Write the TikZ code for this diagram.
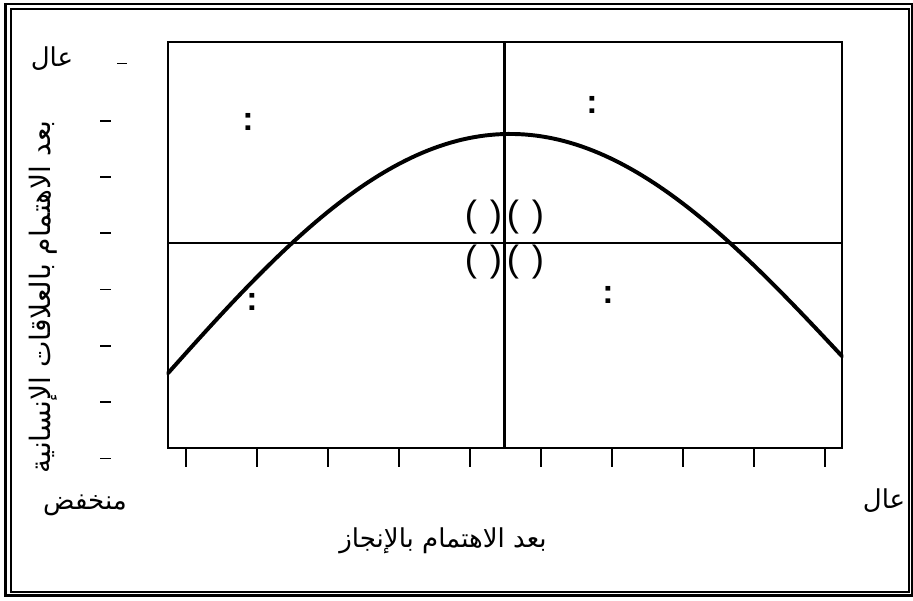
\documentclass[tikz,border=0pt]{standalone}
\usepackage{fontspec}
\setmainfont{Liberation Sans}
\newfontfamily\arabicfont[Script=Arabic]{DejaVu Sans}
\TeXXeTstate=1
\usetikzlibrary{positioning}

\begin{document}
\begin{tikzpicture}[
    x=0.025cm, y=-0.025cm,
    frameout/.style={line width=2.1pt},
    framein/.style={line width=1.4pt},
    axisline/.style={line width=1.5pt},
    tickline/.style={line width=1.2pt},
    curveline/.style={line width=2.8pt, line cap=round},
    lbl/.style={font=\arabicfont\fontsize{18.5}{20}\selectfont, inner sep=0pt},
    dots/.style={font=\fontsize{24}{26}\selectfont\bfseries, inner sep=0pt},
    pars/.style={font=\fontsize{26}{28}\selectfont, inner sep=0pt},
]
\useasboundingbox (0,0) rectangle (913,600);

% double frame
\draw[frameout] (5.5,4) rectangle (912,595.5);
\draw[framein] (11,8.7) rectangle (909,591.7);

% grid box and quadrant lines
\coordinate (bl) at (168,448);
\coordinate (tr) at (842,42);
\draw[axisline] (bl) rectangle (tr);
\draw[axisline] (504.5,42) -- (504.5,448);
\draw[axisline] (168,243.3) -- (842,243.3);

% scale ticks
\draw[tickline] (117,63.5) -- (127,63.5);
\foreach \k in {0,...,6}
  \draw[tickline] (100,120.7+56.3*\k) -- (111,120.7+56.3*\k);
\foreach \k in {0,...,9}
  \draw[tickline] (185.7+71*\k,448) -- (185.7+71*\k,467);

% curve
\draw[curveline] plot[domain=168:842, samples=120]
  (\x, {134+245*(1-cos(0.2571429*(\x-505)))-0.0252*(\x-505)});

% axis labels
\node[lbl] (yhigh) at (52,59) {\beginR عال\endR};
\node[lbl] (xlow) at (85,505) {\beginR منخفض\endR};
\node[lbl] (xhigh) at (884,501) {\beginR عال\endR};
\node[lbl] (xtitle) at (443,541) {\beginR بعد الاهتمام بالإنجاز\endR};
\node[lbl, font=\arabicfont\fontsize{20}{22}\selectfont, rotate=90] (ytitle) at (43,297)
  {\beginR بعد الاهتمام بالعلاقات الإنسانية\endR};

% quadrant marks
\node[dots] (q1) at (248,121.7) {:};
\node[dots] (q2) at (592,105) {:};
\node[dots] (q3) at (252,302) {:};
\node[dots] (q4) at (608,295) {:};
\node[pars] (p1) at (483.5,217) {(\hspace{0.35em})};
\node[pars] (p2) at (525.5,217) {(\hspace{0.35em})};
\node[pars] (p3) at (483.5,262) {(\hspace{0.35em})};
\node[pars] (p4) at (525.5,262) {(\hspace{0.35em})};
\end{tikzpicture}
\end{document}
